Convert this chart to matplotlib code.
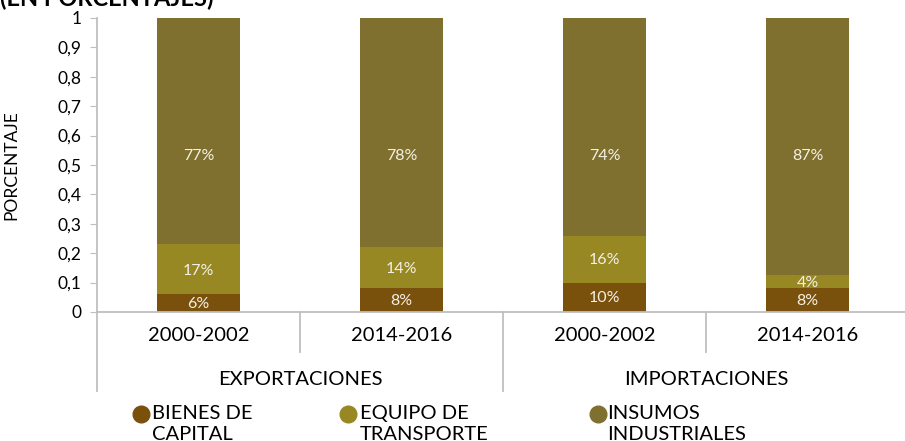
import numpy as np
import matplotlib.pyplot as plt
from matplotlib.lines import Line2D

plt.rcParams['font.family'] = ['Lato', 'DejaVu Sans']

# datos
periodos = ["2000-2002", "2014-2016", "2000-2002", "2014-2016"]
grupos = ["EXPORTACIONES", "IMPORTACIONES"]
bienes_capital = [0.06, 0.08, 0.10, 0.082]
equipo_transporte = [0.17, 0.14, 0.16, 0.044]
insumos_industriales = [0.77, 0.78, 0.74, 0.874]
series = ["BIENES DE\nCAPITAL", "EQUIPO DE\nTRANSPORTE", "INSUMOS\nINDUSTRIALES"]
colores = ["#7A510C", "#978824", "#80702F"]
y_ticks = [0, 0.1, 0.2, 0.3, 0.4, 0.5, 0.6, 0.7, 0.8, 0.9, 1]


def dibujar():
    fig = plt.figure(figsize=(9.05, 4.41), dpi=100)
    ax = fig.add_axes([97 / 905, 1 - 312 / 441, 812 / 905, 294 / 441])

    x = np.arange(len(periodos))
    base = np.zeros(len(periodos))
    capas = [bienes_capital, equipo_transporte, insumos_industriales]
    for k, (vals, col) in enumerate(zip(capas, colores)):
        vals = np.array(vals)
        ax.bar(x, vals, 0.41, bottom=base, color=col, zorder=2)
        for xi, b, v in zip(x, base, vals):
            # la etiqueta de la capa superior queda a media altura del eje
            yl = 0.53 if k == len(capas) - 1 else b + v / 2 - 0.004
            ax.text(xi, yl, "%d%%" % round(v * 100), ha="center", va="center",
                    color="#F3F0E4", fontsize=11.5, zorder=3)
        base = base + vals

    ax.set_xlim(-0.5, 3.5)
    ax.set_ylim(0, 1)
    ax.set_yticks(y_ticks)
    ax.set_yticklabels([("%g" % t).replace(".", ",") for t in y_ticks], fontsize=12.5)
    ax.set_xticks(x)
    ax.set_xticklabels(periodos, fontsize=14.5)
    ax.tick_params(axis="x", length=0, pad=11)
    ax.tick_params(axis="y", length=5, color="#BFBFBF", pad=6)
    for s in ["top", "right", "left"]:
        ax.spines[s].set_visible(False)
    ax.spines["bottom"].set_color("#BFBFBF")
    ax.spines["bottom"].set_linewidth(1.3)
    ax.set_ylabel("PORCENTAJE", fontsize=12.5)
    ax.yaxis.set_label_coords(-0.096, 0.5)

    # separadores de categorias
    tr = ax.get_xaxis_transform()
    for xs, ytop, ybot in [(-0.5, 1, -0.269), (0.5, 0, -0.136), (1.5, 0, -0.269), (2.5, 0, -0.136)]:
        ax.plot([xs, xs], [ytop, ybot], color="#BFBFBF", lw=1.3, transform=tr, clip_on=False)
    for i, g in enumerate(grupos):
        ax.text(0.5 + 2 * i, -0.228, g, transform=tr, ha="center", va="center", fontsize=14.5)

    # leyenda
    pos = [(141, 152), (348, 360), (598, 607)]
    for (cx, tx), nombre, col in zip(pos, series, colores):
        fig.add_artist(Line2D([cx / 905], [1 - 414 / 441], marker="o", markersize=12,
                              color=col, linestyle="none", transform=fig.transFigure))
        fig.text(tx / 905, 1 - 405 / 441, nombre, fontsize=14.5, va="top", ha="left",
                 linespacing=1.3)

    fig.text(0, 1 - 6 / 441, "(EN PORCENTAJES)", fontsize=17, fontweight="bold", va="baseline")

    fig.savefig("out.png", dpi=100)


if __name__ == '__main__':
    dibujar()
